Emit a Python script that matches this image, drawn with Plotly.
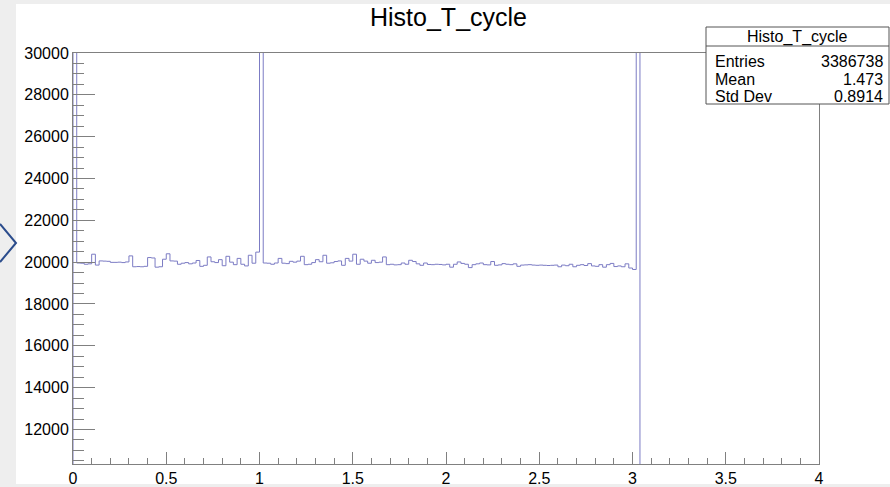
import plotly.graph_objects as go

# ---------------- data ----------------
bin_width = 0.02
n_bins = 200
counts_filled = [
    # bins 0-9  (bin 0 is a spike above the frame)
    60000, 19960, 19950, 19900, 19920, 20380, 19860, 20060, 20050, 20040,
    # 10-19
    19990, 19990, 20000, 19980, 20010, 20300, 19780, 19790, 19780, 19800,
    # 20-29
    20220, 20200, 19760, 19780, 20140, 20400, 20060, 20050, 19900, 19950,
    # 30-39
    19980, 19920, 19960, 20080, 19800, 19850, 20250, 20020, 19980, 20120,
    # 40-49
    19830, 20280, 20000, 19880, 20180, 19900, 19820, 20330, 19950, 20480,
    # 50-59 (bin 50 is a spike)
    290000, 19960, 19950, 19900, 19960, 20180, 19950, 19930, 20040, 20000,
    # 60-69
    20050, 20280, 19880, 19900, 19980, 20120, 20020, 20330, 19950, 19970,
    # 70-79
    20030, 20060, 19850, 20180, 20050, 20380, 19900, 20140, 20050, 19950,
    # 80-89
    20090, 19980, 20000, 20250, 19880, 19900, 19870, 19880, 19960, 19900,
    # 90-99
    20090, 20030, 19920, 19850, 19960, 19890, 19880, 19900, 19890, 19870,
    # 100-109
    19900, 19760, 19900, 20010, 19940, 19900, 19740, 19880, 19920, 19960,
    # 110-119
    19880, 19870, 20030, 19850, 19870, 19930, 19900, 19880, 19920, 19800,
    # 120-129
    19860, 19870, 19880, 19860, 19850, 19860, 19850, 19840, 19850, 19860,
    # 130-139
    19780, 19860, 19830, 19900, 19780, 19850, 19880, 19840, 19930, 19820,
    # 140-149
    19800, 19880, 19760, 19880, 19940, 19790, 19820, 19780, 19920, 19720,
    # 150-151 (bin 151 is a spike)
    19650, 65000,
]
counts_empty = [0] * (n_bins - len(counts_filled))
counts = counts_filled + counts_empty

x_range = [0, 4]
y_range = [10350, 30000]
x_ticks = [0, 0.5, 1, 1.5, 2, 2.5, 3, 3.5, 4]
x_tick_labels = ["0", "0.5", "1", "1.5", "2", "2.5", "3", "3.5", "4"]
y_ticks = [12000, 14000, 16000, 18000, 20000, 22000, 24000, 26000, 28000, 30000]
y_tick_labels = [str(v) for v in y_ticks]

title_text = "Histo_T_cycle"
stats_rows = [("Entries", "3386738"), ("Mean", "1.473"), ("Std Dev", "0.8914")]

# ---------------- layout geometry (pixels) ----------------
W_FIG, H_FIG = 890, 487
L, R, T, B = 73, 819, 53, 464
PW, PH = R - L, B - T


def px(xp):
    return (xp - L) / PW


def py(yp):
    return (B - yp) / PH


edges = [i * bin_width for i in range(n_bins + 1)]
xs = [edges[0]] + edges
ys = [0] + counts + [counts[-1]]

FONT = "Liberation Sans, Arial, Helvetica, sans-serif"
LINE_COL = "#808080"

fig = go.Figure()
fig.add_trace(go.Scatter(
    x=xs, y=ys, mode="lines", line_shape="hv",
    line=dict(color="#7c7cc4", width=1), hoverinfo="skip", showlegend=False,
))

shapes = []
# white canvas on the gray page
shapes.append(dict(type="rect", xref="paper", yref="paper", layer="below",
                   x0=px(16), x1=px(891), y0=py(484), y1=py(4),
                   fillcolor="white", line=dict(width=0)))
# chevron at left edge
shapes.append(dict(type="path", xref="paper", yref="paper", layer="above",
                   path=f"M {px(0)} {py(224)} L {px(16)} {py(243)} L {px(0)} {py(262)}",
                   line=dict(color="#2b4c8c", width=2)))
# stats box
box_l, box_r, box_t, box_b = 706, 889, 27, 104
shapes.append(dict(type="rect", xref="paper", yref="paper", layer="above",
                   x0=px(box_l), x1=px(box_r), y0=py(box_b), y1=py(box_t),
                   fillcolor="white", line=dict(color="#555555", width=1)))
shapes.append(dict(type="line", xref="paper", yref="paper", layer="above",
                   x0=px(box_l), x1=px(box_r), y0=py(46), y1=py(46),
                   line=dict(color="#555555", width=1)))

annotations = []
annotations.append(dict(text=title_text, xref="paper", yref="paper",
                        x=px(448), y=py(17), xanchor="center", yanchor="middle",
                        showarrow=False, font=dict(family=FONT, size=25, color="black")))
annotations.append(dict(text=title_text, xref="paper", yref="paper",
                        x=px((box_l + box_r) / 2), y=py(37), xanchor="center", yanchor="middle",
                        showarrow=False, font=dict(family=FONT, size=16, color="black")))
row_y = [62, 79, 96]
for (lab, val), ry in zip(stats_rows, row_y):
    annotations.append(dict(text=lab, xref="paper", yref="paper",
                            x=px(713), y=py(ry), xanchor="left", yanchor="middle",
                            showarrow=False, font=dict(family=FONT, size=16, color="black")))
    annotations.append(dict(text=val, xref="paper", yref="paper",
                            x=px(885), y=py(ry), xanchor="right", yanchor="middle",
                            showarrow=False, font=dict(family=FONT, size=16, color="black")))

fig.update_layout(
    width=W_FIG, height=H_FIG,
    margin=dict(l=L, r=W_FIG - R, t=T, b=H_FIG - B, pad=0),
    paper_bgcolor="#eeeeee", plot_bgcolor="white",
    shapes=shapes, annotations=annotations,
    showlegend=False,
)
fig.update_xaxes(
    range=x_range, showgrid=False, zeroline=False, automargin=False,
    showline=True, linecolor=LINE_COL, linewidth=1, mirror=True,
    ticks="inside", ticklen=12, tickcolor=LINE_COL, tickwidth=1,
    tickvals=x_ticks, ticktext=x_tick_labels,
    tickfont=dict(family=FONT, size=16, color="black"),
    minor=dict(ticks="inside", ticklen=6, dtick=0.1, tick0=0, tickcolor=LINE_COL, showgrid=False),
)
fig.update_yaxes(
    range=y_range, showgrid=False, zeroline=False, automargin=False,
    showline=True, linecolor=LINE_COL, linewidth=1, mirror=True,
    ticks="inside", ticklen=22, tickcolor=LINE_COL, tickwidth=1,
    tickvals=y_ticks, ticktext=y_tick_labels,
    tickfont=dict(family=FONT, size=16, color="black"),
    minor=dict(ticks="inside", ticklen=11, dtick=500, tick0=0, tickcolor=LINE_COL, showgrid=False),
)

fig.write_html("out.html")
